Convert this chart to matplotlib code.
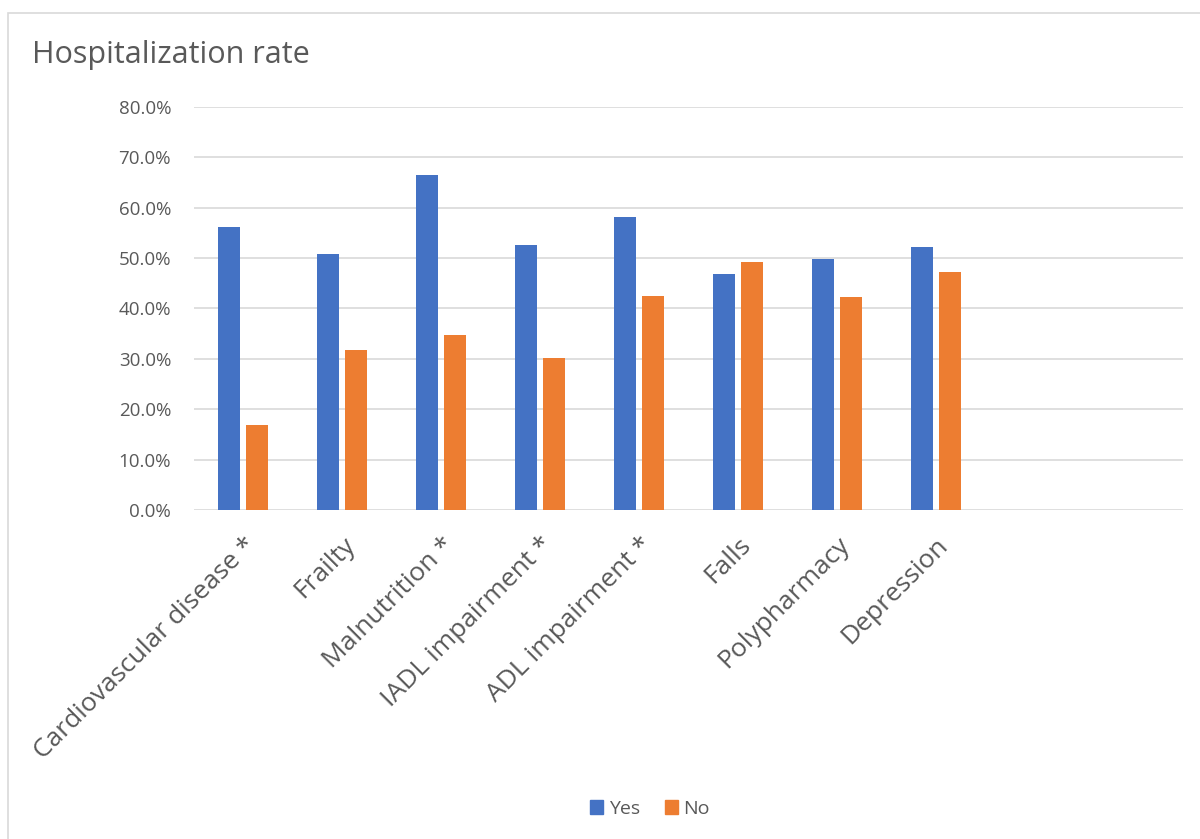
import matplotlib
matplotlib.use("Agg")
import matplotlib.pyplot as plt
from matplotlib.patches import Patch, Rectangle
import numpy as np

plt.rcParams['font.family'] = ['Open Sans', 'DejaVu Sans']

categories = ["Cardiovascular disease *", "Frailty", "Malnutrition *", "IADL impairment *",
              "ADL impairment *", "Falls", "Polypharmacy", "Depression"]
yes_vals = [56.2, 50.8, 66.4, 52.6, 58.2, 46.9, 49.8, 52.2]
no_vals = [16.9, 31.7, 34.8, 30.1, 42.5, 49.1, 42.2, 47.2]
series_names = ["Yes", "No"]
yticks = [0, 10, 20, 30, 40, 50, 60, 70, 80]
n_slots = 10

BLUE = "#4472C4"
ORANGE = "#ED7D31"
TXT = "#595959"
GRID = "#D9D9D9"

fig = plt.figure(figsize=(12, 8.39), dpi=100)
fig.patches.append(Rectangle((8/1200, -0.01), 1.2, 1 - 13/839 + 0.01, transform=fig.transFigure,
                             fill=False, edgecolor="#D9D9D9", linewidth=1.2))
ax = fig.add_axes([194/1200, 1 - 510/839, (1183 - 194)/1200, (510 - 106.7)/839])

x = np.arange(len(categories))
w = 0.223
gap = 0.06
off = (w + gap) / 2
ax.bar(x - off, yes_vals, width=w, color=BLUE, zorder=3, label=series_names[0])
ax.bar(x + off, no_vals, width=w, color=ORANGE, zorder=3, label=series_names[1])

ax.set_xlim(-0.5, n_slots - 0.5)
ax.set_ylim(0, 80)
ax.set_yticks(yticks)
ax.set_yticklabels([f"{v:.1f}%" for v in yticks], fontsize=13.5, color=TXT)
ax.yaxis.grid(True, color=GRID, linewidth=1.2, zorder=0)
ax.tick_params(axis='y', length=0, pad=16.5)
for s in ax.spines.values():
    s.set_visible(False)

ax.set_xticks(x)
ax.set_xticklabels(categories, rotation=45, ha='right', va='top', rotation_mode='anchor',
                   fontsize=19, color=TXT)
ax.tick_params(axis='x', length=0, pad=16)

fig.text(32/1200, 1 - 63/839, "Hospitalization rate", fontsize=22, color=TXT, ha='left', va='baseline')

handles = [Patch(color=BLUE), Patch(color=ORANGE)]
fig.legend(handles, series_names, loc='center', bbox_to_anchor=(650/1200, 1 - 809/839), ncol=2,
           frameon=False, fontsize=14, labelcolor=TXT, handlelength=0.65, handleheight=0.75,
           handletextpad=0.3, columnspacing=1.3)

fig.savefig("out.png", dpi=100, facecolor="white")
